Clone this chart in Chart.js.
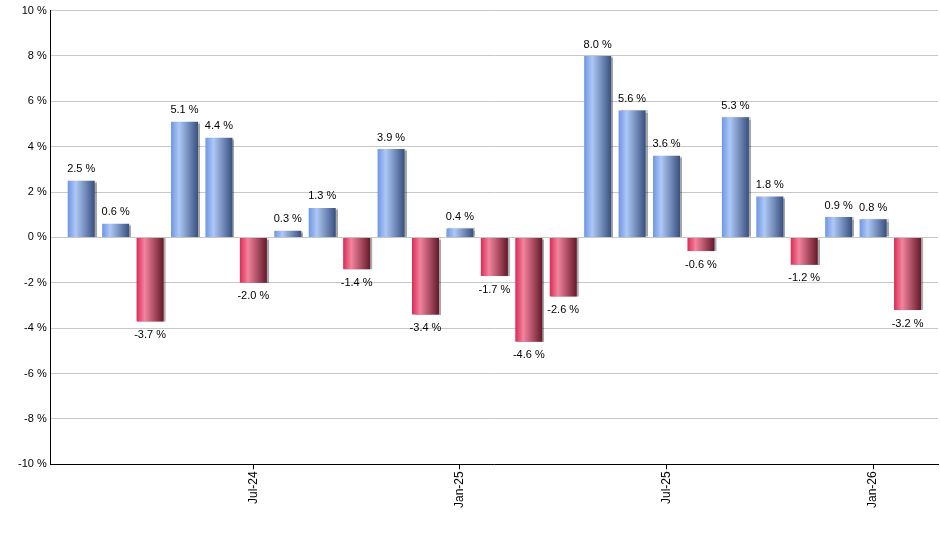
<!DOCTYPE html>
<html><head><meta charset="utf-8">
<script src="https://cdn.jsdelivr.net/npm/chart.js@4/dist/chart.umd.min.js"></script>
<style>html,body{margin:0;padding:0;background:#fff}#wrap{width:940px;height:550px;position:relative}</style>
</head><body><div id="wrap"><canvas id="c"></canvas></div>
<script>
const months = ['Feb-24','Mar-24','Apr-24','May-24','Jun-24','Jul-24','Aug-24','Sep-24','Oct-24','Nov-24','Dec-24','Jan-25','Feb-25','Mar-25','Apr-25','May-25','Jun-25','Jul-25','Aug-25','Sep-25','Oct-25','Nov-25','Dec-25','Jan-26','Feb-26'];
const values = [2.5, 0.6, -3.7, 5.1, 4.4, -2.0, 0.3, 1.3, -1.4, 3.9, -3.4, 0.4, -1.7, -4.6, -2.6, 8.0, 5.6, 3.6, -0.6, 5.3, 1.8, -1.2, 0.9, 0.8, -3.2];
const tickMonths = ['Jul-24','Jan-25','Jul-25','Jan-26'];
const yMin = -10, yMax = 10, yStep = 2;

const FONT = '"Liberation Sans", Arial, sans-serif';
const BAR_FRAC = 0.784;

function barGradient(ctx) {
  const chart = ctx.chart;
  if (!chart.chartArea || ctx.type !== 'data') return '#7a9be0';
  const xs = chart.scales.x;
  const c = xs.getPixelForValue(ctx.dataIndex);
  const step = Math.abs(xs.getPixelForValue(1) - xs.getPixelForValue(0));
  const half = step * BAR_FRAC / 2;
  const g = chart.ctx.createLinearGradient(c - half, 0, c + half, 0);
  const v = values[ctx.dataIndex];
  if (v >= 0) {
    g.addColorStop(0, '#6f96e4');
    g.addColorStop(0.3, '#aec8f6');
    g.addColorStop(1, '#38507f');
  } else {
    g.addColorStop(0, '#db2a55');
    g.addColorStop(0.3, '#f2849e');
    g.addColorStop(1, '#66182a');
  }
  return g;
}

const shadowPlugin = {
  id: 'shadow',
  beforeDatasetsDraw(chart) {
    const c = chart.ctx; c.save();
    c.shadowColor = 'rgba(0,0,0,0.35)';
    c.shadowOffsetX = 2; c.shadowOffsetY = 0; c.shadowBlur = 1;
  },
  afterDatasetsDraw(chart) { chart.ctx.restore(); }
};

const labelPlugin = {
  id: 'vlabels',
  afterDatasetsDraw(chart) {
    const c = chart.ctx;
    const meta = chart.getDatasetMeta(0);
    c.save();
    c.font = '11px ' + FONT;
    c.fillStyle = '#000';
    c.textAlign = 'center';
    meta.data.forEach((el, i) => {
      const v = values[i];
      const txt = v.toFixed(1) + ' %';
      if (v >= 0) { c.textBaseline = 'bottom'; c.fillText(txt, el.x, el.y - 6); }
      else { c.textBaseline = 'top'; c.fillText(txt, el.x, el.y + 8); }
    });
    c.restore();
  }
};

new Chart(document.getElementById('c'), {
  type: 'bar',
  data: {
    datasets: [{
      data: values.map((v, i) => ({ x: i, y: v })),
      backgroundColor: barGradient,
      borderWidth: 0,
      barPercentage: BAR_FRAC,
      categoryPercentage: 1
    }]
  },
  options: {
    responsive: true,
    maintainAspectRatio: false,
    animation: false,
    layout: { padding: { left: 14, right: 2, top: 2, bottom: 40 } },
    plugins: { legend: { display: false }, tooltip: { enabled: false } },
    scales: {
      x: {
        type: 'linear',
        offset: false,
        bounds: 'data',
        min: -0.885,
        max: values.length - 1 + 0.885,
        afterBuildTicks: (s) => { s.ticks = tickMonths.map(m => ({ value: months.indexOf(m) })); },
        ticks: {
          autoSkip: false, minRotation: 90, maxRotation: 90,
          color: '#000', font: { family: FONT, size: 12 }, padding: 2,
          callback: (v) => months[v] || ''
        },
        grid: { offset: false, drawOnChartArea: false, drawTicks: true, tickLength: 5, color: '#000', lineWidth: 1 },
        border: { display: true, color: '#000', width: 1 }
      },
      y: {
        min: yMin, max: yMax,
        ticks: { stepSize: yStep, color: '#000', font: { family: FONT, size: 11 }, padding: 4,
          callback: (v) => v + ' %' },
        grid: { color: '#c8c8c8', lineWidth: 1, drawTicks: false },
        border: { display: true, color: '#000', width: 1 }
      }
    }
  },
  plugins: [shadowPlugin, labelPlugin]
});
</script>
</body></html>
